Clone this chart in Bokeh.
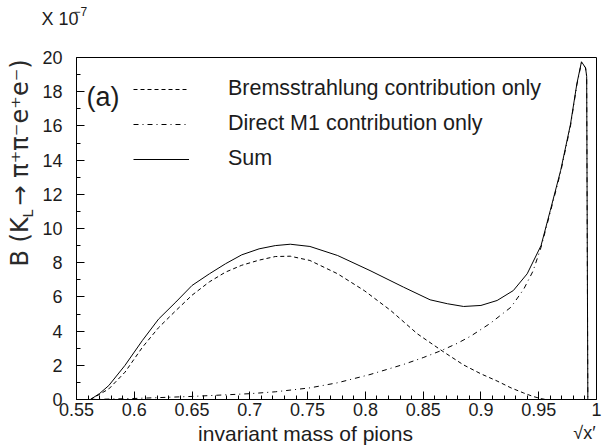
from bokeh.plotting import figure
from bokeh.models import FixedTicker, CustomJSTickFormatter, Label, Legend, LegendItem, Range1d, LinearAxis
from bokeh.embed import file_html
from bokeh.resources import INLINE
import math

# ---------------- data ----------------
sum_x = [0.562, 0.570, 0.578, 0.592, 0.607, 0.621, 0.636, 0.650, 0.665, 0.679, 0.693, 0.708,
         0.722, 0.735, 0.752, 0.776, 0.804, 0.833, 0.856, 0.871, 0.885, 0.900, 0.914, 0.928,
         0.940, 0.952, 0.960, 0.969, 0.9775, 0.983, 0.987, 0.9905, 0.9915, 0.9925]
sum_y = [0.0, 0.35, 0.82, 2.0, 3.45, 4.7, 5.7, 6.67, 7.35, 7.94, 8.46, 8.81,
         9.0, 9.08, 8.95, 8.42, 7.54, 6.57, 5.83, 5.6, 5.44, 5.5, 5.79, 6.37,
         7.35, 9.0, 11.05, 13.4, 16.1, 18.46, 19.75, 19.4, 18.9, 0.0]

brems_x = [0.562, 0.566, 0.578, 0.592, 0.607, 0.621, 0.636, 0.650, 0.665, 0.679, 0.693, 0.708,
           0.722, 0.735, 0.752, 0.776, 0.799, 0.822, 0.845, 0.868, 0.885, 0.900, 0.914, 0.926,
           0.937, 0.945, 0.952, 0.956]
brems_y = [0.0, 0.15, 0.62, 1.6, 3.05, 4.2, 5.2, 6.1, 6.88, 7.45, 7.85, 8.15,
           8.36, 8.38, 8.13, 7.35, 6.37, 5.2, 3.84, 2.77, 2.02, 1.5, 1.08, 0.68,
           0.38, 0.18, 0.05, 0.0]

m1_x = [0.562, 0.600, 0.650, 0.700, 0.722, 0.752, 0.776, 0.804, 0.833, 0.850, 0.866, 0.880,
        0.891, 0.908, 0.926, 0.937, 0.945, 0.952, 0.960, 0.969, 0.9775, 0.983, 0.987, 0.9905,
        0.9915, 0.9925]
m1_y = [0.0, 0.06, 0.18, 0.34, 0.45, 0.68, 0.98, 1.46, 2.05, 2.45, 2.87, 3.3,
        3.7, 4.45, 5.4, 6.45, 7.5, 8.9, 10.95, 13.3, 16.0, 18.4, 19.7, 19.4,
        18.9, 0.0]

x_major = [0.55, 0.60, 0.65, 0.70, 0.75, 0.80, 0.85, 0.90, 0.95, 1.00]
x_minor = [round(0.55 + 0.01 * i, 2) for i in range(46)]
y_major = [0, 2, 4, 6, 8, 10, 12, 14, 16, 18, 20]
y_minor = list(range(0, 21))

series_labels = ["Bremsstrahlung contribution only", "Direct M1 contribution only", "Sum"]

# ---------------- layout ----------------
W, H = 602, 446
FL, FR, FT, FB = 76, 596, 57, 399          # pixel box of the axes
XMIN, XMAX, YMIN, YMAX = 0.55, 1.0, 0.0, 20.0
sx = (XMAX - XMIN) / (FR - FL)
sy = (YMAX - YMIN) / (FB - FT)
FONT = "Liberation Sans"
TFONT = "DejaVu Sans"
TXT = "#1c1c1c"

p = figure(width=W, height=H, output_backend="svg", toolbar_location=None,
           x_axis_type=None, y_axis_type=None,
           x_range=Range1d(XMIN - FL * sx, XMAX + (W - FR) * sx),
           y_range=Range1d(YMIN - (H - FB) * sy, YMAX + FT * sy),
           min_border=0, min_border_left=0, min_border_right=0,
           min_border_top=0, min_border_bottom=0)
p.title.visible = False
p.xgrid.visible = False
p.ygrid.visible = False
p.outline_line_color = None
p.background_fill_color = "white"
p.border_fill_color = "white"


def style(ax, ticks=True):
    ax.major_tick_out = 0
    ax.minor_tick_out = 0
    ax.major_tick_in = 8 if ticks else 0
    ax.minor_tick_in = 4 if ticks else 0
    ax.axis_line_color = "black"
    ax.axis_line_width = 1
    ax.major_tick_line_color = "black"
    ax.minor_tick_line_color = "black"
    ax.major_label_text_font = FONT
    ax.major_label_text_font_size = "18px"
    ax.major_label_text_color = TXT


xaxis = LinearAxis(fixed_location=YMIN, bounds=(XMIN, XMAX),
                   ticker=FixedTicker(ticks=x_major, minor_ticks=x_minor),
                   formatter=CustomJSTickFormatter(code="return String(Number(tick.toFixed(2)));"),
                   major_label_standoff=3)
style(xaxis)
p.add_layout(xaxis, "below")

yaxis = LinearAxis(fixed_location=XMIN, bounds=(YMIN, YMAX),
                   ticker=FixedTicker(ticks=y_major, minor_ticks=y_minor),
                   major_label_standoff=14)
style(yaxis)
p.add_layout(yaxis, "left")

top = LinearAxis(fixed_location=YMAX, bounds=(XMIN, XMAX),
                 ticker=FixedTicker(ticks=[]), major_label_text_alpha=0)
style(top, ticks=False)
p.add_layout(top, "above")

right = LinearAxis(fixed_location=XMAX, bounds=(YMIN, YMAX),
                   ticker=FixedTicker(ticks=[]), major_label_text_alpha=0)
style(right, ticks=False)
p.add_layout(right, "right")

# ---------------- curves ----------------
r_b = p.line(brems_x, brems_y, line_color="black", line_width=1, line_dash="4 3")
r_m = p.line(m1_x, m1_y, line_color="black", line_width=1, line_dash="5 4 1 4")
r_s = p.line(sum_x, sum_y, line_color="black", line_width=1)

leg = Legend(items=[LegendItem(label=series_labels[0], renderers=[r_b]),
                    LegendItem(label=series_labels[1], renderers=[r_m]),
                    LegendItem(label=series_labels[2], renderers=[r_s])],
             location=(133, H - 171), orientation="vertical",
             glyph_width=56, glyph_height=20, label_standoff=39, spacing=10,
             padding=0, margin=0, border_line_alpha=0, background_fill_alpha=0,
             label_text_font=FONT, label_text_font_size="21.5px", label_text_color=TXT,
             label_height=20)
p.add_layout(leg)


def px2x(px):
    return XMIN + (px - FL) * sx


def py2y(py):
    return YMIN + (FB - py) * sy


def lab(text, px, py, size, align="left", baseline="middle", angle=0.0, font=FONT, color=TXT):
    p.add_layout(Label(x=px2x(px), y=py2y(py), text=text, text_font=font,
                       text_font_size=f"{size}px", text_align=align,
                       text_baseline=baseline, angle=angle, text_color=color))


# panel tag
lab("(a)", 86, 96, 27)
# multiplier
lab("X 10", 41, 18, 18)
lab("\u22127", 73, 11, 12)
# x axis title
lab("invariant mass of pions", 305, 433, 21, align="center")
lab("\u221Ax\u2032", 584, 432, 18, align="center")
# y axis title (rotated)
lab("B (K", 19, 266, 24, angle=math.pi / 2, font=TFONT, color="#2a2a2a")
lab("L", 27, 217, 14, angle=math.pi / 2, font=TFONT, color="#2a2a2a")
lab(" \u2192 \u03c0\u207a\u03c0\u207be\u207ae\u207b)", 19, 205, 24, angle=math.pi / 2,
    font=TFONT, color="#2a2a2a")

open("out.html", "w").write(file_html(p, INLINE))
